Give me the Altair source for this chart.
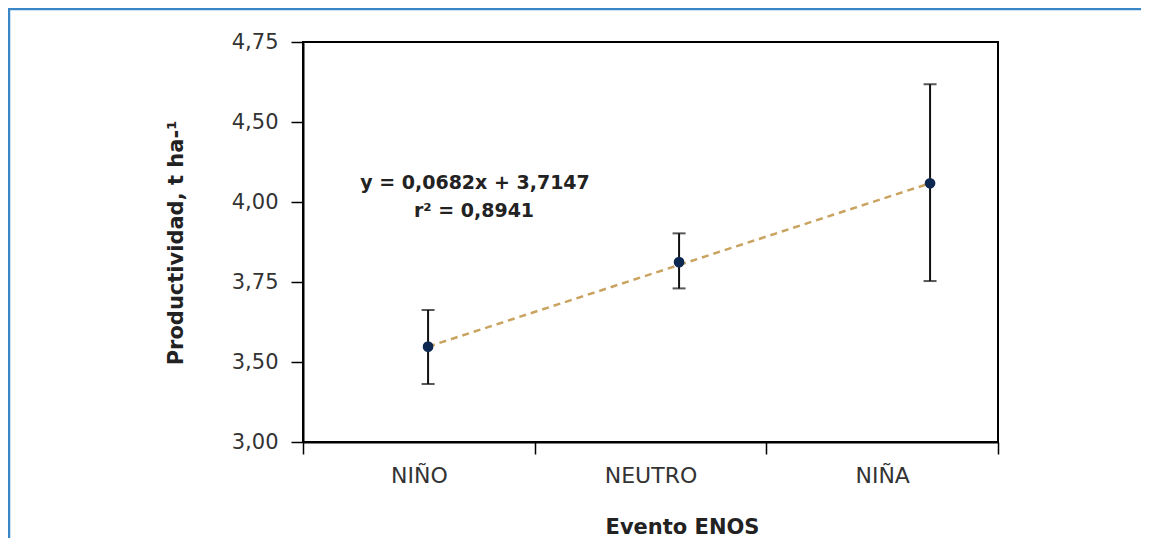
import altair as alt
import pandas as pd

# ---- data ----
categories = ["NIÑO", "NEUTRO", "NIÑA"]
means = [3.548, 3.812, 4.117]
lows = [3.3625, 3.730, 3.753]
highs = [3.6625, 3.902, 4.618]

trend_cats = ["NIÑO", "NIÑA"]
trend_vals = [3.548, 4.117]

y_ticks = [3.00, 3.50, 3.75, 4.00, 4.50, 4.75]

eq_lines = ["y = 0,0682x + 3,7147", "r² = 0,8941"]

x_title = "Evento ENOS"
y_title = "Productividad, t ha-¹"

FONT = "DejaVu Sans"
W, H = 695, 400

df = pd.DataFrame({"cat": categories, "mean": means, "low": lows, "high": highs})
trend_df = pd.DataFrame({"cat": trend_cats, "val": trend_vals})
one = pd.DataFrame({"k": [0]})

yscale = alt.Scale(domain=y_ticks, range=[H * (1 - i / (len(y_ticks) - 1)) for i in range(len(y_ticks))],
                   zero=False, nice=False)

# point scale used by the marks (asymmetric outer space as in the reference)
xpt = alt.X("cat:N", sort=categories, axis=None,
            scale=alt.Scale(type="point", padding=0.3845, align=0.648))

# axis layer (band scale, ticks at band edges)
axis_layer = alt.Chart(df).mark_point(opacity=0).encode(
    x=alt.X("cat:N", sort=categories,
            scale=alt.Scale(type="band", paddingInner=0, paddingOuter=0),
            axis=alt.Axis(title=x_title, tickBand="extent", labelAngle=0,
                          labelFont=FONT, labelFontSize=22, labelColor="#333333",
                          labelPadding=11, tickSize=12, tickColor="black", tickWidth=1.5,
                          domainColor="black", domainWidth=2,
                          titleFont=FONT, titleFontSize=21, titleFontWeight="bold",
                          titleColor="#222222", titleX=379, titleY=91.5,
                          titleAlign="center", titleBaseline="alphabetic")),
    y=alt.Y("mean:Q", scale=yscale,
            axis=alt.Axis(values=y_ticks, grid=False, title=y_title,
                          labelExpr="replace(format(datum.value, '.2f'), '.', ',')",
                          labelFont=FONT, labelFontSize=21, labelColor="#333333",
                          labelPadding=13, tickSize=12, tickColor="black", tickWidth=1.5,
                          domainColor="black", domainWidth=2,
                          titleFont=FONT, titleFontSize=21, titleFontWeight="bold",
                          titleColor="#222222", titleAngle=-90, titleX=-121, titleY=200.5,
                          titleAlign="center", titleBaseline="alphabetic")),
)

rules = alt.Chart(df).mark_rule(color="#111111", strokeWidth=2).encode(
    x=xpt, y=alt.Y("low:Q", scale=yscale), y2="high:Q")
caps_lo = alt.Chart(df).mark_tick(color="#111111", size=13, thickness=2).encode(
    x=xpt, y=alt.Y("low:Q", scale=yscale))
caps_hi = alt.Chart(df).mark_tick(color="#111111", size=13, thickness=2).encode(
    x=xpt, y=alt.Y("high:Q", scale=yscale))
trend = alt.Chart(trend_df).mark_line(color="#c9a35f", strokeWidth=2.5, strokeDash=[7, 5]).encode(
    x=xpt, y=alt.Y("val:Q", scale=yscale))
points = alt.Chart(df).mark_circle(color="#0c2850", opacity=1, size=115).encode(
    x=xpt, y=alt.Y("mean:Q", scale=yscale))

eq1 = alt.Chart(one).mark_text(font=FONT, fontSize=19, fontWeight="bold", color="#222222",
                               align="center", baseline="alphabetic").encode(
    x=alt.value(172), y=alt.value(147.3), text=alt.value(eq_lines[0]))
eq2 = alt.Chart(one).mark_text(font=FONT, fontSize=19, fontWeight="bold", color="#222222",
                               align="center", baseline="alphabetic").encode(
    x=alt.value(171), y=alt.value(174.7), text=alt.value(eq_lines[1]))

frame = alt.Chart(one).mark_rect(filled=False, stroke="#3a87c8", strokeWidth=2.5).encode(
    x=alt.value(-294), x2=alt.value(900), y=alt.value(-33), y2=alt.value(600))

inner = alt.layer(frame, rules, caps_lo, caps_hi, trend, points, eq1, eq2)

chart = alt.layer(axis_layer, inner).resolve_scale(x="independent").properties(
    width=W, height=H,
    autosize=alt.AutoSizeParams(type="none"),
    padding={"left": 295, "top": 34, "right": 143, "bottom": 96},
).configure_view(stroke="black", strokeWidth=2)

chart.save("out.html", embed_options={"renderer": "svg", "actions": False})
